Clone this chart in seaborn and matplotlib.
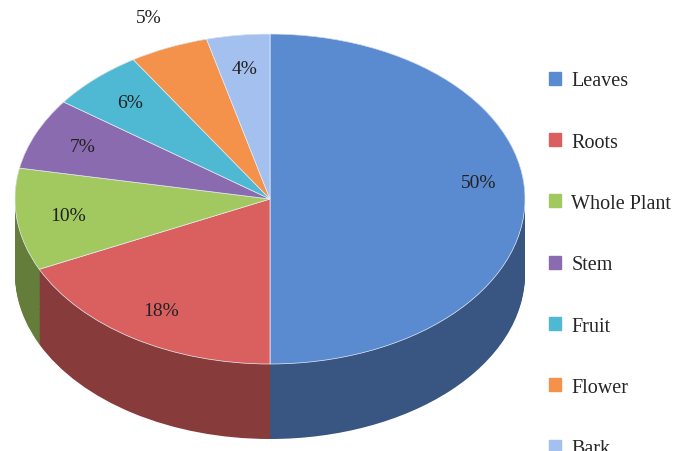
import matplotlib
matplotlib.use("Agg")
import matplotlib.pyplot as plt
import matplotlib.patches as mpatches
import matplotlib.colors as mcolors
import numpy as np
import seaborn as sns

categories = ["Leaves", "Roots", "Whole Plant", "Stem", "Fruit", "Flower", "Bark"]
values = [50, 18, 10, 7, 6, 5, 4]
colors = ["#5a8ad0", "#d9605f", "#a2c95f", "#8a6bb0", "#4fb8d3", "#f4914a", "#a3c0ee"]

sns.set_theme(style="white")
plt.rcParams["font.family"] = ["Liberation Serif", "DejaVu Serif"]

fig = plt.figure(figsize=(6.85, 4.52), dpi=100)
ax = fig.add_axes([15 / 685, 0, 510 / 685, 1])

depth = 75 / 165
side_colors = [mcolors.to_hex(np.array(mcolors.to_rgb(c)) * 0.62) for c in colors]
n_layers = 60
for i in range(n_layers + 1):
    y = -depth + depth * i / n_layers
    ax.pie(values, colors=side_colors, startangle=90, counterclock=False,
           center=(0, y), radius=1, wedgeprops=dict(linewidth=0))

wedges, texts, autotexts = ax.pie(
    values, colors=colors, startangle=90, counterclock=False,
    center=(0, 0), radius=1, autopct="%d%%", pctdistance=0.8,
    wedgeprops=dict(linewidth=0.5, edgecolor="#e8eef8"),
    textprops=dict(fontsize=14, color="#222222"))

for w, t, v in zip(wedges, autotexts, values):
    ang = np.deg2rad((w.theta1 + w.theta2) / 2)
    d = 1.2 if v == 5 else (0.82 if v == 50 else 0.8)
    t.set_position((d * np.cos(ang), d * np.sin(ang) + (0.1 if v == 50 else 0)))

ax.set_aspect("auto")
ax.set_xlim(-1, 1)
ax.set_ylim(200 / 165 - 452 / 165, 200 / 165)
ax.axis("off")

handles = [mpatches.Patch(color=c, label=l) for c, l in zip(colors, categories)]
fig.legend(handles=handles, loc="upper left", bbox_to_anchor=(0.775, 0.88),
           frameon=False, fontsize=14.5, labelspacing=2.1,
           handlelength=0.6, handleheight=0.6, handletextpad=0.5)

fig.savefig("out.png", dpi=100)
